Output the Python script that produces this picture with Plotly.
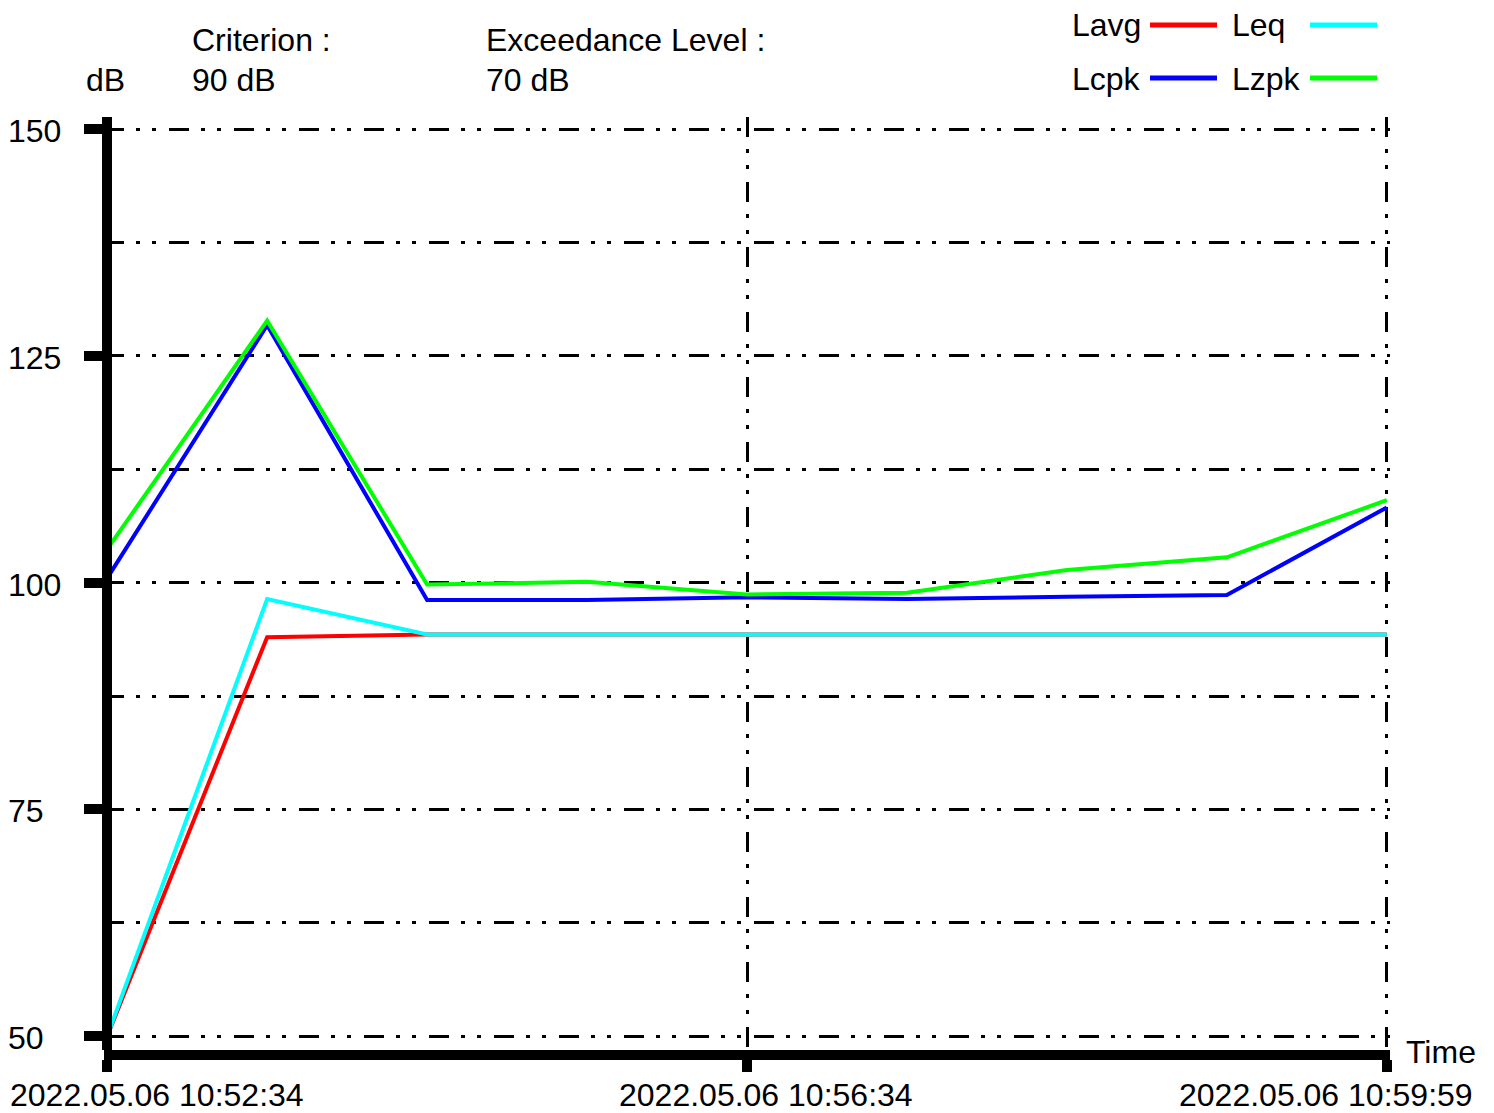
import plotly.graph_objects as go

# ---------------- data ----------------
sample_index = [0, 1, 2, 3, 4, 5, 6, 7, 8]
lavg = [50.0, 94.0, 94.3, 94.3, 94.3, 94.3, 94.3, 94.3, 94.3]
leq = [50.0, 98.2, 94.3, 94.3, 94.3, 94.3, 94.3, 94.3, 94.3]
lcpk = [100.5, 128.4, 98.1, 98.1, 98.4, 98.2, 98.45, 98.65, 108.3]
lzpk = [103.7, 128.9, 99.8, 100.1, 98.7, 98.9, 101.4, 102.8, 109.1]

series_names = ["Lavg", "Leq", "Lcpk", "Lzpk"]
series_values = [lavg, leq, lcpk, lzpk]
series_colors = ["#ff0000", "#00ffff", "#0000ff", "#00ff00"]

x_tick_index = [0, 4, 8]
x_tick_labels = ["2022.05.06 10:52:34", "2022.05.06 10:56:34", "2022.05.06 10:59:59"]
y_tick_values = [50, 75, 100, 125, 150]
y_tick_labels = ["50", "75", "100", "125", "150"]

criterion_text = ["Criterion :", "90 dB"]
exceedance_text = ["Exceedance Level :", "70 dB"]
y_unit = "dB"
x_title = "Time"

# ---------------- layout geometry ----------------
W, H = 1494, 1113
OFF = 8  # page body margin offset of the html page
L, T = 104 - OFF, 117 - OFF
PW, PH = 1286, 933
R = W - L - PW
B = H - T - PH
FONT = "Liberation Sans, Arial, sans-serif"
FS = 32


def px_x(px):
    return (px - OFF - L) / PW


def px_y(py):
    return (T + PH - (py - OFF)) / PH


fig = go.Figure()
for name, vals, col in zip(series_names, series_values, series_colors):
    fig.add_trace(go.Scatter(x=sample_index, y=vals, mode="lines", name=name,
                             line=dict(color=col, width=4),
                             showlegend=False, hoverinfo="skip"))

GRID_DASH = "20px,12px,4px,12px,4px,13px"

fig.update_layout(
    width=W, height=H,
    margin=dict(l=L, r=R, t=T, b=B, pad=0),
    paper_bgcolor="white", plot_bgcolor="white",
    font=dict(family=FONT, size=FS, color="black"),
    showlegend=False,
)

fig.update_xaxes(
    range=[-0.02, 8.02], tickmode="array", tickvals=x_tick_index,
    showticklabels=False, ticks="outside", ticklen=12, tickwidth=10, tickcolor="black",
    showline=True, linewidth=10, linecolor="black",
    showgrid=True, gridcolor="black", gridwidth=3, griddash=GRID_DASH,
    zeroline=True, zerolinewidth=10, zerolinecolor="black",
    layer="above traces",
)
try:
    fig.update_xaxes(zerolinelayer="above traces")
except Exception:
    pass

fig.update_yaxes(
    range=[48.48, 151.35], tickmode="array", tickvals=y_tick_values,
    showticklabels=False, ticks="outside", ticklen=19, tickwidth=10, tickcolor="black",
    showline=False, zeroline=False,
    showgrid=True, gridcolor="black", gridwidth=3, griddash=GRID_DASH,
    minor=dict(tickmode="linear", tick0=50, dtick=12.5, showgrid=True,
               gridcolor="black", gridwidth=3, griddash=GRID_DASH, ticks=""),
    layer="above traces",
)

ann = []


def text(t, x, y, xanchor="left"):
    ann.append(dict(text=t, x=px_x(x), y=px_y(y), xref="paper", yref="paper",
                    xanchor=xanchor, yanchor="middle", showarrow=False,
                    font=dict(family=FONT, size=FS, color="black")))


# header texts
text(y_unit, 84, 80)
text(criterion_text[0], 190, 40)
text(criterion_text[1], 190, 80)
text(exceedance_text[0], 484, 40)
text(exceedance_text[1], 484, 80)
text(x_title, 1404, 1052)

# legend (text followed by line sample)
legend_text_pos = [(1070, 25), (1230, 25), (1070, 79), (1230, 79)]
legend_line_pos = [(1150, 1217, 25), (1310, 1377, 25), (1150, 1217, 78), (1310, 1377, 78)]
shapes = []
for name, col, (tx, ty), (lx0, lx1, ly) in zip(series_names, series_colors, legend_text_pos, legend_line_pos):
    text(name, tx, ty)
    shapes.append(dict(type="line", xref="paper", yref="paper",
                       x0=px_x(lx0), x1=px_x(lx1), y0=px_y(ly), y1=px_y(ly),
                       line=dict(color=col, width=5)))

# y tick labels (left aligned at the page edge)
for v, lab in zip(y_tick_values, y_tick_labels):
    ann.append(dict(text=lab, x=px_x(6), y=v, xref="paper", yref="y",
                    xanchor="left", yanchor="middle", yshift=-2, showarrow=False,
                    font=dict(family=FONT, size=FS, color="black")))

# x tick labels
x_label_anchor = ["left", "center", "center"]
x_label_shift = [-99, 19, -61]
for v, lab, xa, xs in zip(x_tick_index, x_tick_labels, x_label_anchor, x_label_shift):
    ann.append(dict(text=lab, x=v, y=px_y(1095), xref="x", yref="paper",
                    xanchor=xa, yanchor="middle", xshift=xs, showarrow=False,
                    font=dict(family=FONT, size=FS, color="black")))

fig.update_layout(annotations=ann, shapes=shapes)

fig.write_html("out.html", config={"displayModeBar": False})
